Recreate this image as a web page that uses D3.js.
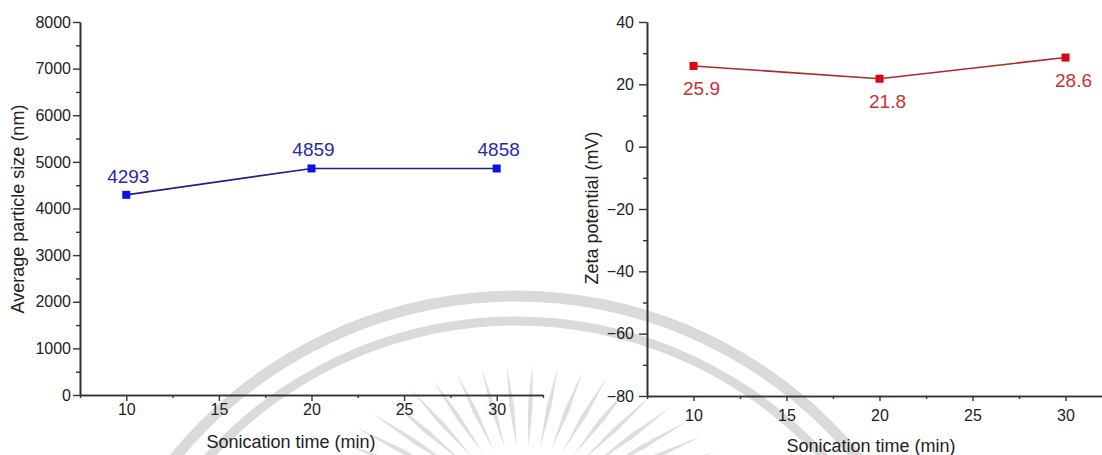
<!DOCTYPE html>
<html><head><meta charset="utf-8">
<script src="https://cdn.jsdelivr.net/npm/d3@7/dist/d3.min.js"></script>
<style>
html,body{margin:0;padding:0;background:#fff;}
svg{display:block;font-family:"Liberation Sans",Arial,sans-serif;}
</style></head>
<body>
<svg id="chart" width="1102" height="455"></svg>
<script>
// ---- data ----
const times = [10, 20, 30];
const particleSize = [4293, 4859, 4858];
const zetaPotential = [25.9, 21.8, 28.6];
const sizeLabels = ["4293", "4859", "4858"];
const zetaLabels = ["25.9", "21.8", "28.6"];
const xMajorTicks = [10, 15, 20, 25, 30];
const xMinorTicks = [7.5, 12.5, 17.5, 22.5, 27.5, 32.5];
const sizeMajorTicks = [0, 1000, 2000, 3000, 4000, 5000, 6000, 7000, 8000];
const sizeMinorTicks = [500, 1500, 2500, 3500, 4500, 5500, 6500, 7500];
const zetaMajorTicks = [-80, -60, -40, -20, 0, 20, 40];
const zetaMinorTicks = [-70, -50, -30, -10, 10, 30];

const svg = d3.select("#chart");

// ---- faint background watermark ----
const wm = svg.append("g");
const arc = d3.arc();
[[441, 11], [416, 9]].forEach(([r, w]) => {
  wm.append("path")
    .attr("transform", "translate(516,737)")
    .attr("d", arc({innerRadius: r - w / 2, outerRadius: r + w / 2, startAngle: -Math.PI / 2, endAngle: Math.PI / 2}))
    .attr("fill", "#dadada");
});
const rayG = svg.append("g").attr("transform", "translate(525,515)");
d3.range(-172, -5, 7).forEach(a => {
  const t = a * Math.PI / 180;
  const c = Math.cos(t), s = Math.sin(t);
  const ri = 0.45;
  const ox = 210 * c, oy = 150 * s;
  const ix = ox * ri, iy = oy * ri;
  const mx = (ox + ix) / 2, my = (oy + iy) / 2;
  const px = -s * 2.4, py = c * 2.4;
  rayG.append("path")
    .attr("d", `M${ix},${iy} L${mx + px},${my + py} L${ox},${oy} L${mx - px},${my - py} Z`)
    .attr("fill", "#dedede");
});

const font = "'Liberation Sans', Arial, sans-serif";

function panel(opt) {
  const x = d3.scaleLinear().domain([7.5, 32.5]).range(opt.xr);
  const y = d3.scaleLinear().domain(opt.yd).range(opt.yr);
  const g = svg.append("g");
  const axisColor = "#333";

  g.append("g").attr("transform", `translate(${opt.xr[0]},0)`)
    .call(d3.axisLeft(y).tickValues(opt.yMinor).tickSize(4).tickFormat("").tickSizeOuter(0));
  g.append("g").attr("transform", `translate(${opt.xr[0]},0)`)
    .call(d3.axisLeft(y).tickValues(opt.yMajor).tickSize(opt.yTick).tickPadding(opt.yPad)
      .tickFormat(d3.format("d")).tickSizeOuter(0));
  g.append("g").attr("transform", `translate(0,${opt.yr[0]})`)
    .call(d3.axisBottom(x).tickValues(xMinorTicks).tickSize(3).tickFormat("").tickSizeOuter(0));
  g.append("g").attr("transform", `translate(0,${opt.yr[0]})`)
    .call(d3.axisBottom(x).tickValues(xMajorTicks).tickSize(opt.xTick).tickPadding(opt.xPad).tickSizeOuter(0));

  g.selectAll(".domain").attr("stroke", axisColor).attr("stroke-width", 1.6);
  g.selectAll(".tick line").attr("stroke", axisColor).attr("stroke-width", 1.4);
  g.selectAll(".tick text").attr("font-family", font).attr("font-size", 16).attr("fill", "#222");

  const pts = times.map((t, i) => [x(t), y(opt.values[i])]);
  g.append("path").attr("d", d3.line()(pts)).attr("fill", "none")
    .attr("stroke", opt.lineColor).attr("stroke-width", 1.6);
  g.selectAll("rect.m").data(times).join("rect")
    .attr("x", (t) => x(t) - 4).attr("y", (t, i) => y(opt.values[i]) - 4)
    .attr("width", 8).attr("height", 8).attr("fill", opt.markColor);
  g.selectAll("text.lbl").data(times).join("text")
    .attr("x", (t) => x(t) + opt.lblDx).attr("y", (t, i) => y(opt.values[i]) + opt.lblDy)
    .attr("text-anchor", "middle").attr("font-family", font).attr("font-size", 19)
    .attr("fill", opt.lblColor).text((t, i) => opt.labels[i]);

  g.append("text").attr("x", opt.xTitle[0]).attr("y", opt.xTitle[1])
    .attr("text-anchor", "middle").attr("font-family", font).attr("font-size", 18).attr("fill", "#222")
    .text("Sonication time (min)");
  g.append("text").attr("transform", `translate(${opt.yTitle[0]},${opt.yTitle[1]}) rotate(-90)`)
    .attr("text-anchor", "middle").attr("font-family", font).attr("font-size", 18).attr("fill", "#222")
    .text(opt.yLabel);
}

panel({
  xr: [80, 543], yd: [0, 8000], yr: [395, 22],
  yMajor: sizeMajorTicks, yMinor: sizeMinorTicks,
  yTick: 7, yPad: 2, xTick: 6, xPad: 3,
  values: particleSize, labels: sizeLabels,
  lineColor: "#1f1f8f", markColor: "#1010e8", lblColor: "#2a2aa8",
  lblDx: 2, lblDy: -12,
  xTitle: [291, 448], yTitle: [24, 209], yLabel: "Average particle size (nm)"
});

panel({
  xr: [647, 1112], yd: [-80, 40], yr: [396, 22],
  yMajor: zetaMajorTicks, yMinor: zetaMinorTicks,
  yTick: 8, yPad: 5, xTick: 5, xPad: 9,
  values: zetaPotential, labels: zetaLabels,
  lineColor: "#b02828", markColor: "#e00010", lblColor: "#c83232",
  lblDx: 8, lblDy: 29,
  xTitle: [871, 452], yTitle: [598, 208], yLabel: "Zeta potential (mV)"
});
</script>
</body></html>
